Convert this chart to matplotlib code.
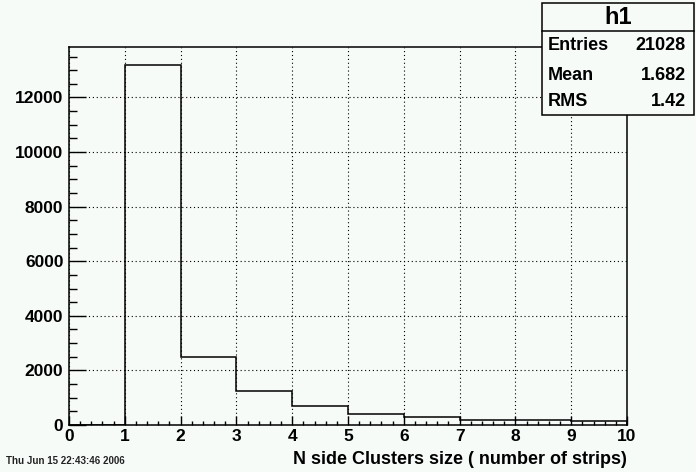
import numpy as np
import matplotlib.pyplot as plt
from matplotlib.patches import Rectangle
from matplotlib.ticker import MultipleLocator

plt.rcParams['font.family'] = ['Liberation Sans', 'DejaVu Sans']

# contenido de los bins
edges = np.arange(0, 11)
counts = [0, 13187, 2490, 1234, 685, 392, 282, 183, 183, 135]

entries = 21028
mean = 1.682
rms = 1.42
titulo = 'h1'
xlabel = 'N side Clusters size ( number of strips)'
fecha = 'Thu Jun 15 22:43:46 2006'

bg = '#f6fbf8'
W, H = 696, 472

fig = plt.figure(figsize=(W / 100, H / 100), dpi=100, facecolor=bg)
ax = fig.add_axes([69 / W, (H - 425) / H, 558 / W, 378 / H], facecolor=bg)

ax.stairs(counts, edges, baseline=0, color='black', lw=1.1)

ax.set_xlim(0, 10)
ax.set_ylim(0, 13850)
ax.xaxis.set_major_locator(MultipleLocator(1))
ax.xaxis.set_minor_locator(MultipleLocator(0.2))
ax.yaxis.set_major_locator(MultipleLocator(2000))
ax.yaxis.set_minor_locator(MultipleLocator(500))
ax.tick_params(axis='x', which='major', direction='in', length=6.5, width=1, labelsize=12.5, pad=3)
ax.tick_params(axis='x', which='minor', direction='in', length=3, width=1)
ax.tick_params(axis='y', which='major', direction='in', length=12, width=1, labelsize=12.5, pad=4)
ax.tick_params(axis='y', which='minor', direction='in', length=5.8, width=1)
for lab in ax.get_xticklabels() + ax.get_yticklabels():
    lab.set_fontweight('bold')
ax.grid(True, which='major', color='black', ls=(0, (1, 2.5)), lw=0.8)
for s in ax.spines.values():
    s.set_linewidth(1.1)

fig.text(627 / W, 1 - 460 / H, xlabel, ha='right', va='center', fontsize=13, fontweight='bold')
fig.text(6 / W, 1 - 461 / H, fecha, ha='left', va='center', fontsize=7, fontweight='bold', color='#222222')

# caja de estadisticas
x0, x1, y0, y1, yd = 542, 694, 3, 115, 31
fig.patches.append(Rectangle((x0 / W, 1 - y1 / H), (x1 - x0) / W, (y1 - y0) / H,
                             transform=fig.transFigure, facecolor=bg, edgecolor='black', lw=1.1, zorder=5))
fig.add_artist(plt.Line2D([x0 / W, x1 / W], [1 - yd / H, 1 - yd / H], color='black', lw=1.1, zorder=6))
fig.text((x0 + x1) / 2 / W, 1 - 18 / H, titulo, ha='center', va='center', fontsize=17, fontweight='bold', zorder=7)
filas = [('Entries', f'{entries}', 46), ('Mean', f'{mean}', 75), ('RMS', f'{rms}', 102)]
for nombre, valor, yy in filas:
    fig.text(548 / W, 1 - yy / H, nombre, ha='left', va='center', fontsize=13, fontweight='bold', zorder=7)
    fig.text(686 / W, 1 - yy / H, valor, ha='right', va='center', fontsize=13, fontweight='bold', zorder=7)

fig.savefig('out.png', dpi=100, facecolor=bg)
